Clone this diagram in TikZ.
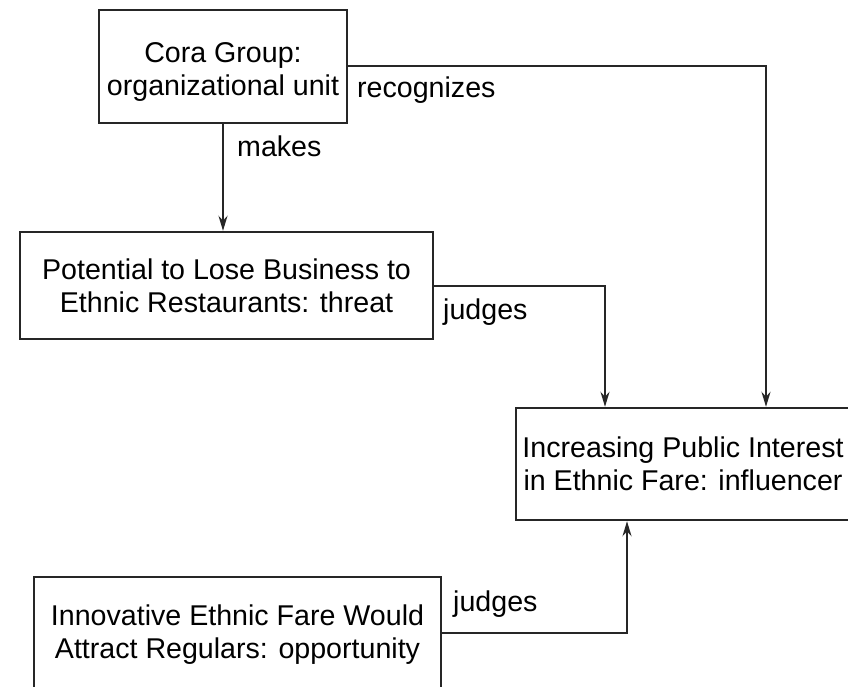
\documentclass[tikz,border=0pt]{standalone}
\usepackage{fontspec}
\setmainfont{Liberation Sans}
\usetikzlibrary{arrows.meta}
\begin{document}
\begin{tikzpicture}[x=1pt,y=-1pt,
  box/.style={draw=black!85,line width=2.4pt,align=center,inner sep=0pt,
    font=\fontsize{28.6}{33}\selectfont},
  conn/.style={draw=black!85,line width=2pt},
  arr/.style={conn,-{Stealth[length=15pt,width=9pt]}},
  lbl/.style={anchor=west,inner sep=0pt,font=\fontsize{28.6}{33}\selectfont}]
\useasboundingbox (0,0) rectangle (848,687);
\fill[white] (0,0) rectangle (848,687);
\node[box,minimum width=248pt,minimum height=113pt] (cora) at (223,66.5) {\rule{0pt}{31pt}Cora Group:\\organizational unit};
\node[box,minimum width=413pt,minimum height=107pt] (pot) at (226.5,285.5) {Potential to Lose Business to\\Ethnic Restaurants: threat};
\node[box,minimum width=334pt,minimum height=112pt] (infl) at (683,464) {Increasing Public Interest\\in Ethnic Fare: influencer};
\node[box,minimum width=407pt,minimum height=111pt] (inn) at (237.5,632.5) {\rule{0pt}{25pt}Innovative Ethnic Fare Would\\Attract Regulars: opportunity};
\coordinate (rx) at (766,0);
\coordinate (jx) at (605,0);
\coordinate (kx) at (627,0);
\draw[arr] (cora.south) -- (cora.south |- pot.north);
\draw[arr] (cora.east) -| (rx |- infl.north);
\draw[arr] (pot.east) -| (jx |- infl.north);
\draw[arr] (inn.east) -| (kx |- infl.south);
\node[lbl] (lmakes) at (237,146) {makes};
\node[lbl] (lrec) at (357,90) {recognizes};
\node[lbl] (lj1) at (443,312) {judges};
\node[lbl] (lj2) at (453,604) {judges};
\end{tikzpicture}
\end{document}
